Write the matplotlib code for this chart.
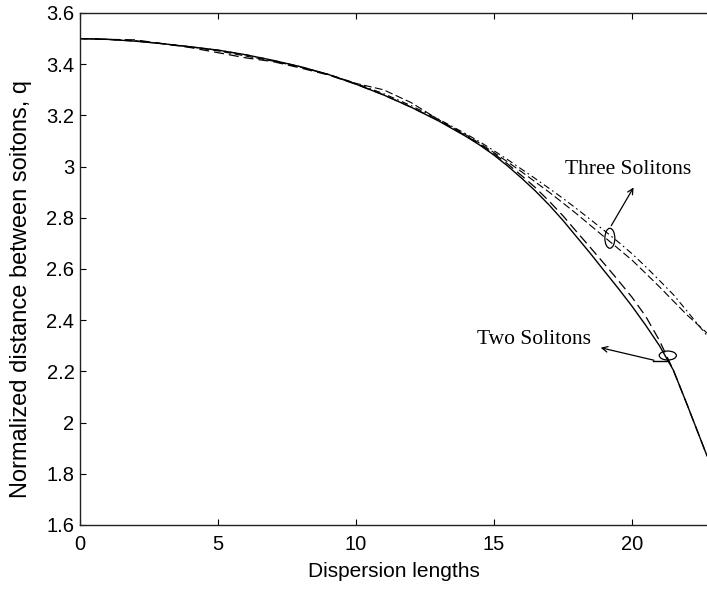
import matplotlib
matplotlib.use('Agg')
import matplotlib.pyplot as plt
from matplotlib.patches import Ellipse

# Dispersion lengths (x) and normalized soliton separation q
x = [0, 1, 2, 3, 4, 5, 6, 7, 8, 9, 10, 11, 12, 13,
     14, 14.5, 15, 15.5, 16, 16.5, 17, 17.5, 18, 18.5, 19, 19.5,
     20, 20.5, 21, 21.5, 22, 22.72]
two_solid = [3.50, 3.497, 3.49, 3.48, 3.468, 3.455, 3.437, 3.415, 3.39, 3.36,
             3.322, 3.28, 3.232, 3.178,
             3.117, 3.083, 3.045, 3.002, 2.955, 2.905, 2.85, 2.79, 2.725, 2.66,
             2.592, 2.525, 2.455, 2.38, 2.30, 2.205, 2.07, 1.87]
two_dashed = [3.50, 3.497, 3.495, 3.48, 3.465, 3.445, 3.425, 3.41, 3.385, 3.358,
              3.322, 3.28, 3.232, 3.18,
              3.12, 3.086, 3.05, 3.01, 2.965, 2.918, 2.865, 2.808, 2.745, 2.683,
              2.62, 2.556, 2.49, 2.415, 2.32, 2.205, 2.07, 1.87]
three_dashdot = [3.50, 3.497, 3.49, 3.48, 3.468, 3.455, 3.437, 3.415, 3.39, 3.36,
                 3.325, 3.285, 3.238, 3.185,
                 3.127, 3.096, 3.062, 3.027, 2.99, 2.953, 2.915, 2.876, 2.835, 2.793,
                 2.75, 2.706, 2.66, 2.609, 2.555, 2.50, 2.435, 2.34]
three_dashed = [3.50, 3.497, 3.492, 3.48, 3.468, 3.452, 3.432, 3.412, 3.388, 3.36,
                3.325, 3.30, 3.25, 3.183,
                3.123, 3.09, 3.055, 3.018, 2.98, 2.94, 2.9, 2.858, 2.815, 2.77,
                2.725, 2.68, 2.635, 2.583, 2.53, 2.475, 2.42, 2.35]

xticks = [0, 5, 10, 15, 20]
yticks = [1.6, 1.8, 2, 2.2, 2.4, 2.6, 2.8, 3, 3.2, 3.4, 3.6]
yticklabels = ['1.6', '1.8', '2', '2.2', '2.4', '2.6', '2.8', '3', '3.2', '3.4', '3.6']

sans = ['Liberation Sans', 'DejaVu Sans']
serif = ['Liberation Serif', 'DejaVu Serif']

fig = plt.figure(figsize=(7.07, 5.89), dpi=100)
ax = fig.add_axes([80 / 707, 64 / 589, 627 / 707, 512 / 589])

ax.plot(x, two_solid, color='black', lw=1.0, ls='-')
ax.plot(x, two_dashed, color='black', lw=0.9, ls=(0, (8, 4)))
ax.plot(x, three_dashdot, color='black', lw=0.8, ls=(0, (6, 3, 1.5, 3)))
ax.plot(x, three_dashed, color='black', lw=0.8, ls=(0, (7, 3)))

ax.set_xlim(0, 22.72)
ax.set_ylim(1.6, 3.6)
ax.set_xticks(xticks)
ax.set_xticklabels([str(t) for t in xticks], family=sans, fontsize=14.5)
ax.set_yticks(yticks)
ax.set_yticklabels(yticklabels, family=sans, fontsize=14.5)
ax.tick_params(direction='in', top=True, right=False, length=4, width=0.8,
               color='black')
ax.tick_params(axis='x', pad=7)
ax.tick_params(axis='y', pad=4)
ax.spines['right'].set_visible(False)
for s in ['left', 'bottom', 'top']:
    ax.spines[s].set_linewidth(1.0)
    ax.spines[s].set_color('#222222')

ax.set_xlabel('Dispersion lengths', family=sans, fontsize=15)
ax.set_ylabel('Normalized distance between soitons, q', family=sans, fontsize=17)
ax.xaxis.set_label_coords(0.5, -0.073)
ax.yaxis.set_label_coords(-0.077, 0.46)

# Annotations
ax.add_patch(Ellipse((19.2, 2.72), 0.36, 0.078, fill=False, ec='black', lw=0.9))
ax.add_patch(Ellipse((21.3, 2.262), 0.62, 0.035, fill=False, ec='black', lw=0.9))
ax.annotate('', xy=(20.11, 2.928), xytext=(19.2, 2.76),
            arrowprops=dict(arrowstyle='->', color='black', lw=0.9))
ax.annotate('', xy=(18.77, 2.295), xytext=(20.9, 2.241),
            arrowprops=dict(arrowstyle='->', color='black', lw=0.9))
ax.plot([20.76, 21.3], [2.241, 2.241], color='black', lw=1.0)
ax.text(17.57, 2.987, 'Three Solitons', family=serif, fontsize=15.5,
        va='center', ha='left')
ax.text(14.38, 2.323, 'Two Solitons', family=serif, fontsize=15.5,
        va='center', ha='left')

fig.savefig('out.png', dpi=100)
